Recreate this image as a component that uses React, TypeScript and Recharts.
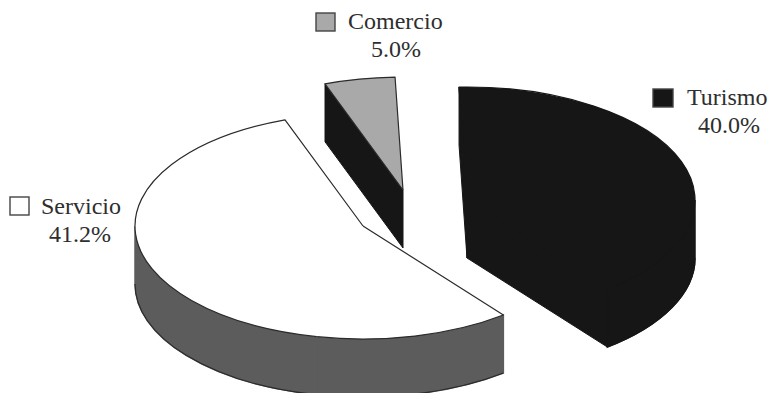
import { PieChart, Pie } from 'recharts';

// Labelled shares add up to 86.2; the unlabelled rest sits next to Servicio in the same white.
const categories = ['Turismo', 'Resto', 'Servicio', 'Comercio'];
const shares = [40.0, 13.8, 41.2, 5.0];
const sliceData = categories.map((name, i) => ({ name, value: shares[i] }));

const RX = 228;
const RY = 113;
const DEPTH = 58;
const OUTLINE = '#2b2b2b';
const BLACK = '#161616';

type SliceStyle = { dx: number; dy: number; top: string; wall: string; line: string; seam?: 'hi' | 'lo' };

const sliceStyles: Record<string, SliceStyle> = {
  Turismo: { dx: 104, dy: -26, top: BLACK, wall: BLACK, line: BLACK },
  Resto: { dx: 0, dy: 0, top: '#ffffff', wall: '#5c5c5c', line: OUTLINE, seam: 'lo' },
  Servicio: { dx: 0, dy: 0, top: '#ffffff', wall: '#5c5c5c', line: OUTLINE, seam: 'hi' },
  Comercio: { dx: 40, dy: -36, top: '#a9a9a9', wall: BLACK, line: OUTLINE },
};

const legendItems: Record<string, { box: number[]; fill: string; nameX: number; nameY: number; pctX: number; pctY: number }> = {
  Turismo: { box: [653, 89, 20, 18], fill: BLACK, nameX: 687, nameY: 105, pctX: 698, pctY: 133 },
  Servicio: { box: [10, 197, 19, 18], fill: '#ffffff', nameX: 41, nameY: 214, pctX: 49, pctY: 242 },
  Comercio: { box: [316, 13, 19, 18], fill: '#a9a9a9', nameX: 348, nameY: 29, pctX: 371, pctY: 57 },
};

const rad = (deg: number) => (deg * Math.PI) / 180;

// Pie slice squashed to an ellipse, pulled out of the centre, with a side wall below it
function Slice3D(props: any) {
  const style = sliceStyles[props.name ?? props.payload?.name];
  if (!style) return null;
  const cx = props.cx + style.dx;
  const cy = props.cy + style.dy;
  const hi = Math.max(props.startAngle, props.endAngle);
  const lo = Math.min(props.startAngle, props.endAngle);

  const pt = (a: number, drop = 0) => `${cx + RX * Math.cos(rad(a))} ${cy - RY * Math.sin(rad(a)) + drop}`;
  const large = (a: number, b: number) => (Math.abs(a - b) > 180 ? 1 : 0);

  const walls: number[][] = [];
  for (let k = -2; k <= 1; k++) {
    const a = Math.min(hi, 360 * k);
    const b = Math.max(lo, 360 * k - 180);
    if (a > b) walls.push([a, b]);
  }

  const faces: number[] = [];
  if (Math.cos(rad(lo)) > 0 && style.seam !== 'lo') faces.push(lo);
  if (Math.cos(rad(hi)) < 0 && style.seam !== 'hi') faces.push(hi);

  const centre = `${cx} ${cy}`;
  const topFill = `M${centre} L${pt(hi)} A${RX} ${RY} 0 ${large(hi, lo)} 1 ${pt(lo)} Z`;
  const topLine =
    (style.seam === 'hi' ? `M${pt(hi)}` : `M${centre} L${pt(hi)}`) +
    ` A${RX} ${RY} 0 ${large(hi, lo)} 1 ${pt(lo)}` +
    (style.seam === 'lo' ? '' : ` L${centre}`);

  return (
    <g>
      {faces.map((a) => (
        <path
          key={a}
          d={`M${centre} L${pt(a)} L${pt(a, DEPTH)} L${cx} ${cy + DEPTH} Z`}
          fill={style.wall}
          stroke={style.wall}
        />
      ))}
      {walls.map(([a, b]) => (
        <g key={a}>
          <path
            d={`M${pt(a)} A${RX} ${RY} 0 ${large(a, b)} 1 ${pt(b)} L${pt(b, DEPTH)} A${RX} ${RY} 0 ${large(a, b)} 0 ${pt(a, DEPTH)} Z`}
            fill={style.wall}
            stroke={style.wall}
            strokeWidth={1.5}
          />
          <path
            d={`M${pt(a, DEPTH)} A${RX} ${RY} 0 ${large(a, b)} 1 ${pt(b, DEPTH)}`}
            fill="none"
            stroke={style.line}
            strokeWidth={1.2}
          />
        </g>
      ))}
      <path d={topFill} fill={style.top} />
      <path d={topLine} fill="none" stroke={style.line} strokeWidth={1.2} strokeLinejoin="round" />
    </g>
  );
}

// Swatch, name and percentage for each labelled slice
function SliceLabel(props: any) {
  const name = categories[props.index];
  const item = legendItems[name];
  if (!item) return null;
  const [x, y, w, h] = item.box;
  const textStyle = { fontFamily: '"Liberation Serif", serif', fontSize: 24, fill: '#2e2e2e' };
  return (
    <g>
      <rect x={x} y={y} width={w} height={h} fill={item.fill} stroke="#444" strokeWidth={1.4} />
      <text x={item.nameX} y={item.nameY} {...textStyle}>
        {name}
      </text>
      <text x={item.pctX} y={item.pctY} {...textStyle}>
        {shares[props.index].toFixed(1)}%
      </text>
    </g>
  );
}

export default function App() {
  return (
    <div style={{ position: 'absolute', left: 0, top: 0, width: 773, height: 393, background: '#fff' }}>
      <PieChart width={773} height={393} margin={{ top: 0, right: 0, bottom: 0, left: 0 }}>
        <Pie
          data={sliceData}
          dataKey="value"
          nameKey="name"
          cx={363}
          cy={226}
          outerRadius={RX}
          startAngle={92}
          endAngle={-268}
          stroke="none"
          shape={Slice3D}
          inactiveShape={Slice3D}
          activeShape={Slice3D}
          label={SliceLabel}
          labelLine={false}
          isAnimationActive={false}
        />
      </PieChart>
    </div>
  );
}
